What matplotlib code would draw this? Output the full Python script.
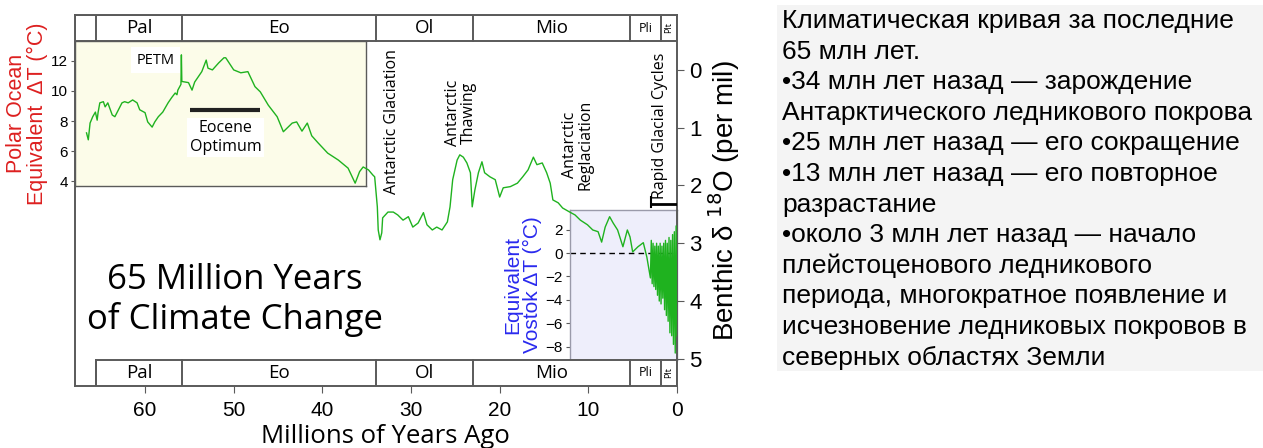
import numpy as np
import matplotlib.pyplot as plt
from matplotlib.patches import Rectangle

# Benthic d18O curve (age in million years, d18O per mil)
age = [66.6, 66.4, 66.2, 65.9, 65.6, 65.4, 65.3, 65.1, 64.7, 64.5, 64.2, 63.7, 63.4, 63.0,
       62.6, 62.3, 61.9, 61.4, 60.9, 60.6, 60.0, 59.7, 59.2, 58.9, 58.5, 58.0, 57.4, 57.0,
       56.6, 56.4, 56.3, 55.95, 55.9, 55.85, 55.5, 55.1, 54.7, 54.4, 54.0, 53.6, 53.1, 52.9,
       52.4, 51.7, 51.1, 50.9, 50.0, 49.2, 48.4, 47.6, 47.0, 46.1, 45.1, 44.4, 43.4, 42.9,
       42.3, 41.7, 41.2, 40.5, 39.4, 38.2, 37.1, 36.3, 35.8, 35.4, 34.8, 34.3, 34.1, 33.8,
       33.7, 33.5, 33.3, 33.2, 32.6, 32.0, 31.5, 30.9, 30.3, 29.8, 29.2, 28.6, 28.2, 27.6,
       27.1, 26.5, 25.9, 25.6, 25.3, 24.8, 24.5, 24.1, 23.7, 23.3, 23.1, 22.8, 22.4, 22.0,
       21.7, 21.1, 20.5, 20.0, 19.6, 18.8, 18.0, 17.4, 16.8, 16.2, 15.8, 15.2, 14.7, 14.3,
       14.0, 13.4, 12.9, 12.1, 11.5, 10.9, 10.1, 9.5, 8.9, 8.5, 8.1, 7.6, 7.2, 6.7, 6.1,
       5.6, 5.3, 5.0, 4.4, 3.8, 3.4,
       3.0, 2.9, 2.8, 2.7, 2.6, 2.5, 2.4, 2.3, 2.2, 2.1, 2.0, 1.9, 1.8, 1.7, 1.6, 1.5,
       1.4, 1.3, 1.2, 1.1, 1.0, 0.9, 0.8, 0.7, 0.6, 0.5, 0.4, 0.3, 0.2, 0.1, 0.0]
d18o = [1.09, 1.21, 0.92, 0.81, 0.73, 0.87, 0.74, 0.57, 0.55, 0.64, 0.57, 0.78, 0.81, 0.69,
        0.57, 0.55, 0.57, 0.52, 0.57, 0.69, 0.74, 0.90, 0.99, 0.90, 0.81, 0.73, 0.57, 0.48,
        0.40, 0.43, 0.35, 0.25, -0.26, 0.20, 0.21, 0.22, 0.35, 0.21, 0.12, 0.03, -0.17, -0.03,
        0.00, -0.12, -0.21, -0.21, 0.00, 0.05, 0.03, 0.29, 0.38, 0.61, 0.81, 1.07, 0.92, 0.90,
        1.06, 0.92, 1.14, 1.26, 1.44, 1.56, 1.70, 1.96, 1.76, 1.68, 1.73, 1.82, 1.85, 2.37,
        2.77, 2.94, 2.82, 2.56, 2.46, 2.46, 2.51, 2.60, 2.54, 2.72, 2.65, 2.47, 2.68, 2.77,
        2.72, 2.77, 2.63, 2.37, 1.90, 1.56, 1.47, 1.51, 1.61, 1.78, 2.37, 2.08, 1.78, 1.59,
        1.78, 1.85, 1.90, 2.20, 2.04, 2.02, 1.96, 1.85, 1.73, 1.51, 1.64, 1.61, 1.78, 1.96,
        2.25, 2.30, 2.39, 2.46, 2.51, 2.60, 2.68, 2.77, 2.80, 2.98, 2.72, 2.54, 2.65, 2.77, 3.06,
        2.77, 2.89, 3.15, 3.06, 2.99, 3.24,
        3.6, 2.95, 3.7, 3.0, 3.75, 3.05, 3.8, 3.0, 3.9, 3.05, 4.0, 3.0, 4.05, 3.05, 3.95, 3.0,
        4.15, 2.95, 4.25, 3.0, 4.35, 2.9, 4.55, 2.95, 4.6, 2.85, 4.75, 2.8, 4.9, 2.7, 4.6]

epoch_names = ['Pal', 'Eo', 'Ol', 'Mio', 'Pli', 'Plt']
epoch_start = [65.5, 55.8, 33.9, 23.0, 5.3, 1.8]
epoch_end = [55.8, 33.9, 23.0, 5.3, 1.8, 0.0]

x_ticks = [60, 50, 40, 30, 20, 10, 0]
d18o_ticks = [0, 1, 2, 3, 4, 5]
polar_ticks = [4, 6, 8, 10, 12]
vostok_ticks = [2, 0, -2, -4, -6, -8]

text_lines = [
    'Климатическая кривая за последние',
    '65 млн лет.',
    '•34 млн лет назад — зарождение',
    'Антарктического ледникового покрова',
    '•25 млн лет назад — его сокращение',
    '•13 млн лет назад — его повторное',
    'разрастание',
    '•около 3 млн лет назад — начало',
    'плейстоценового ледникового',
    'периода, многократное появление и',
    'исчезновение ледниковых покровов в',
    'северных областях Земли',
]

W, H = 1263, 448
fig = plt.figure(figsize=(W / 100, H / 100), dpi=100)

def px_rect(x0, y0, x1, y1):
    return [x0 / W, 1 - y1 / H, (x1 - x0) / W, (y1 - y0) / H]

frame = '#5a5a5a'
sans = ['Open Sans', 'DejaVu Sans']
arial = ['Liberation Sans', 'DejaVu Sans']

# inset boxes (behind the main curve)
ax_p = fig.add_axes(px_rect(75, 41, 366, 186), zorder=1)
ax_p.set_facecolor('#fcfce9')
ax_p.set_xlim(0, 1)
ax_p.set_ylim(3.67, 13.33)
ax_p.set_xticks([])
ax_p.set_yticks(polar_ticks)
ax_p.tick_params(axis='y', length=3, color=frame, labelsize=11, pad=2)
for lab in ax_p.get_yticklabels():
    lab.set_family(arial)
for s in ax_p.spines.values():
    s.set_color(frame)
    s.set_linewidth(1.0)
ax_p.set_ylabel('Polar Ocean\nEquivalent  ΔT (°C)', color='#dd2020', fontsize=15.5,
                family=arial, linespacing=1.0, labelpad=2)

ax_v = fig.add_axes(px_rect(570, 210, 677, 360), zorder=1)
ax_v.set_facecolor('#eeeefb')
ax_v.set_xlim(0, 1)
ax_v.set_ylim(-9.15, 3.68)
ax_v.set_xticks([])
ax_v.set_yticks(vostok_ticks)
ax_v.tick_params(axis='y', length=3, color=frame, labelsize=11, pad=2)
for lab in ax_v.get_yticklabels():
    lab.set_family(arial)
for s in ax_v.spines.values():
    s.set_color('#9a9aaa')
    s.set_linewidth(1.0)
ax_v.axhline(0, color='black', ls='--', lw=1, dashes=(4, 3))
ax_v.set_ylabel('Equivalent\nVostok ΔT (°C)', color='#2a2aee', fontsize=15,
                family=arial, linespacing=1.0, labelpad=3)

# main axes
ax = fig.add_axes(px_rect(75, 15, 677, 386), zorder=3)
ax.patch.set_alpha(0)
ax.set_xlim(67.9, 0)
ax.set_ylim(5.47, -0.95)
ax.plot(age, d18o, color='#1fb21f', lw=1.0, zorder=4)

for s in ax.spines.values():
    s.set_color(frame)
    s.set_linewidth(1.4)
ax.set_xticks(x_ticks)
ax.tick_params(axis='x', length=5, color=frame, labelsize=15, pad=6)
ax.yaxis.tick_right()
ax.set_yticks(d18o_ticks)
ax.tick_params(axis='y', length=5, color=frame, labelsize=16, pad=4)
for lab in ax.get_xticklabels() + ax.get_yticklabels():
    lab.set_family(arial)
ax.yaxis.set_label_position('right')
ax.set_ylabel('Benthic δ $^{18}$O (per mil)', fontsize=20, family=arial, labelpad=3)
ax.set_xlabel('Millions of Years Ago', fontsize=18.5, family=sans)
ax.xaxis.set_label_coords(0.515, -0.102)

# epoch bars
top = (-0.95, -0.50)
bot = (5.02, 5.47)
ax.add_patch(Rectangle((67.9, top[0]), -67.9, top[1] - top[0], fill=False,
                       ec=frame, lw=1.4, zorder=5))
ax.plot([65.5, 65.5], top, color=frame, lw=1.4, zorder=5)
ax.add_patch(Rectangle((65.5, bot[0]), -65.5, bot[1] - bot[0], fc='white',
                       ec=frame, lw=1.4, zorder=5))
ax.plot([65.5, 65.5], bot, color=frame, lw=1.4, zorder=5)
for name, a0, a1 in zip(epoch_names, epoch_start, epoch_end):
    for y0, y1 in (top, bot):
        ax.plot([a1, a1], [y0, y1], color=frame, lw=1.4, zorder=5)
        xc, yc = (a0 + a1) / 2, (y0 + y1) / 2
        if name == 'Plt':
            ax.text(xc, yc, name, rotation=90, ha='center', va='center',
                    fontsize=6.5, family=sans, zorder=6)
        elif name == 'Pli':
            ax.text(xc, yc, name, ha='center', va='center', fontsize=9,
                    family=sans, zorder=6)
        else:
            ax.text(xc, yc, name, ha='center', va='center', fontsize=13.5,
                    family=sans, zorder=6)

# annotations
ax.text(58.8, -0.17, 'PETM', ha='center', va='center', fontsize=10.5, family=sans,
        bbox=dict(fc='white', ec='none', pad=4), zorder=3)
ax.plot([54.9, 47.0], [0.69, 0.69], color='#222222', lw=3, solid_capstyle='butt', zorder=5)
ax.text(50.9, 1.17, 'Eocene\nOptimum', ha='center', va='center', fontsize=11.5,
        family=sans, linespacing=1.2, bbox=dict(fc='white', ec='none', pad=2), zorder=3)
ax.text(32.1, 0.9, 'Antarctic Glaciation', rotation=90, ha='center', va='center',
        fontsize=11.5, family=sans, zorder=6)
ax.text(24.4, 0.75, 'Antarctic\nThawing', rotation=90, ha='center', va='center',
        fontsize=11.5, family=sans, linespacing=1.0, zorder=6)
ax.text(11.2, 1.3, 'Antarctic\nReglaciation', rotation=90, ha='center', va='center',
        fontsize=11.5, family=sans, linespacing=1.0, zorder=6)
ax.text(1.9, 0.97, 'Rapid Glacial Cycles', rotation=90, ha='center', va='center',
        fontsize=11.5, family=sans, zorder=6)
ax.plot([2.9, 0], [2.32, 2.32], color='black', lw=2, zorder=6)
ax.plot([2.9, 2.9], [2.2, 2.38], color='black', lw=1.5, zorder=6)

ax.text(0.265, 0.232, '65 Million Years\nof Climate Change', transform=ax.transAxes,
        ha='center', va='center', fontsize=25, family=sans, linespacing=1.2)

# description on the right
fig.patches.append(Rectangle((777 / W, 1 - 371 / H), (W - 777) / W, 366 / H,
                             transform=fig.transFigure, fc='#f4f4f4', ec='none', zorder=0))
for i, line in enumerate(text_lines):
    fig.text(782 / W, 1 - (21 + i * 30.6) / H, line, ha='left', va='center',
             fontsize=19, family=arial)

fig.savefig('out.png', dpi=100)
